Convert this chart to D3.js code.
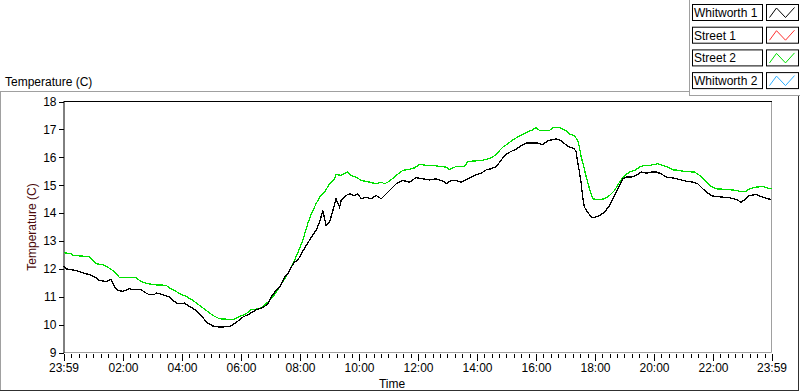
<!DOCTYPE html>
<html>
<head>
<meta charset="utf-8">
<script src="https://cdn.jsdelivr.net/npm/d3@7"></script>
<style>
  body { margin: 0; background: #fff; }
  svg { display: block; font-family: "Liberation Sans", Arial, sans-serif; }
</style>
</head>
<body>
<svg id="chart" width="800" height="392"></svg>
<script>
// hours after the 23:59 start, temperature (C)
var whitworth1 = [[0,12.09],[0.09,12.00],[0.43,11.94],[0.65,11.86],[0.88,11.79],[1.11,11.68],[1.22,11.58],[1.45,11.55],[1.62,11.62],[1.73,11.34],[1.84,11.23],[2.01,11.19],[2.24,11.29],[2.35,11.25],[2.63,11.25],[2.80,11.13],[2.92,11.07],[3.08,11.07],[3.14,11.14],[3.37,11.07],[3.59,10.99],[3.76,10.83],[3.87,10.75],[4.10,10.77],[4.27,10.65],[4.50,10.51],[4.67,10.33],[4.84,10.09],[5.06,9.95],[5.29,9.91],[5.63,9.93],[5.85,10.07],[6.08,10.27],[6.31,10.39],[6.53,10.53],[6.76,10.61],[6.93,10.75],[7.04,10.99],[7.21,11.23],[7.32,11.34],[7.49,11.70],[7.60,11.82],[7.72,12.06],[7.83,12.24],[7.94,12.30],[8.06,12.54],[8.23,12.84],[8.40,13.13],[8.56,13.38],[8.68,13.67],[8.79,14.09],[8.90,13.56],[9.02,13.67],[9.13,14.09],[9.24,14.51],[9.36,14.21],[9.41,14.45],[9.58,14.63],[9.69,14.69],[9.86,14.63],[9.98,14.69],[10.09,14.51],[10.26,14.57],[10.43,14.51],[10.60,14.63],[10.77,14.51],[10.94,14.69],[11.11,14.87],[11.28,15.05],[11.50,15.17],[11.73,15.11],[11.95,15.27],[12.18,15.23],[12.41,15.19],[12.63,15.23],[12.80,15.17],[12.92,15.11],[12.97,15.05],[13.14,15.17],[13.31,15.17],[13.48,15.11],[13.65,15.19],[13.82,15.29],[13.99,15.38],[14.16,15.43],[14.33,15.55],[14.50,15.59],[14.67,15.67],[14.78,15.82],[14.95,16.06],[15.12,16.18],[15.35,16.30],[15.52,16.42],[15.68,16.51],[15.85,16.51],[16.08,16.51],[16.25,16.45],[16.42,16.60],[16.59,16.63],[16.70,16.66],[16.81,16.63],[16.93,16.54],[17.10,16.39],[17.32,16.30],[17.38,16.18],[17.43,15.82],[17.49,15.47],[17.55,15.05],[17.60,14.57],[17.66,14.21],[17.77,14.03],[17.89,13.85],[18.00,13.84],[18.17,13.91],[18.34,14.03],[18.51,14.27],[18.68,14.63],[18.85,14.99],[18.96,15.23],[19.07,15.29],[19.24,15.29],[19.41,15.35],[19.58,15.47],[19.75,15.43],[19.92,15.47],[20.09,15.47],[20.26,15.41],[20.43,15.29],[20.60,15.27],[20.77,15.23],[20.94,15.19],[21.11,15.14],[21.33,15.11],[21.50,15.05],[21.67,14.87],[21.90,14.67],[22.01,14.61],[22.35,14.57],[22.58,14.55],[22.80,14.49],[22.97,14.39],[23.14,14.51],[23.25,14.63],[23.48,14.66],[23.71,14.57],[23.88,14.51],[24,14.49]];

var street2 = [[0,12.58],[0.26,12.54],[0.32,12.48],[0.88,12.44],[0.99,12.30],[1.11,12.18],[1.33,12.15],[1.50,12.06],[1.67,11.94],[1.84,11.76],[1.90,11.68],[2.46,11.68],[2.58,11.58],[2.75,11.50],[3.03,11.43],[3.48,11.41],[3.59,11.32],[3.76,11.23],[3.93,11.11],[4.16,11.01],[4.38,10.87],[4.61,10.69],[4.84,10.51],[5.06,10.33],[5.29,10.21],[5.74,10.18],[5.97,10.29],[6.19,10.39],[6.36,10.53],[6.64,10.57],[6.76,10.65],[6.93,10.81],[7.10,10.99],[7.32,11.34],[7.60,11.82],[7.83,12.30],[8.00,12.72],[8.11,13.02],[8.28,13.62],[8.40,13.97],[8.56,14.33],[8.68,14.57],[8.85,14.75],[9.02,15.05],[9.19,15.23],[9.24,15.38],[9.41,15.35],[9.53,15.43],[9.64,15.47],[9.75,15.35],[9.92,15.29],[10.09,15.17],[10.37,15.11],[10.60,15.05],[10.77,15.11],[10.88,15.05],[11.05,15.14],[11.28,15.35],[11.50,15.53],[11.73,15.57],[11.90,15.62],[12.07,15.75],[12.29,15.71],[12.52,15.71],[12.75,15.67],[12.97,15.65],[13.08,15.56],[13.31,15.67],[13.59,15.67],[13.71,15.85],[14.21,15.89],[14.50,15.98],[14.67,16.10],[14.78,16.24],[14.89,16.36],[15.06,16.48],[15.23,16.63],[15.46,16.76],[15.68,16.88],[15.91,16.99],[16.02,17.06],[16.14,16.96],[16.47,16.96],[16.59,17.06],[16.81,17.06],[17.04,16.96],[17.15,16.84],[17.32,16.78],[17.43,16.60],[17.49,16.36],[17.55,16.00],[17.60,15.82],[17.72,15.29],[17.83,14.87],[17.94,14.51],[18.11,14.48],[18.34,14.51],[18.51,14.63],[18.68,14.81],[18.85,15.11],[19.02,15.35],[19.19,15.47],[19.36,15.53],[19.53,15.65],[19.69,15.71],[19.86,15.71],[20.03,15.74],[20.15,15.77],[20.32,15.71],[20.48,15.65],[20.65,15.55],[20.88,15.53],[21.05,15.49],[21.39,15.47],[21.56,15.35],[21.73,15.17],[21.90,14.99],[22.12,14.87],[22.58,14.84],[22.80,14.81],[22.92,14.78],[23.14,14.78],[23.25,14.87],[23.48,14.93],[23.71,14.95],[23.93,14.87],[24,14.87]];

var legendNames = ["Whitworth 1", "Street 1", "Street 2", "Whitworth 2"];
var legendColors = ["#000000", "#ff3030", "#00e000", "#30b0ff"];
var yTicks = [9, 10, 11, 12, 13, 14, 15, 16, 17, 18];
var xMajorHours = [2, 4, 6, 8, 10, 12, 14, 16, 18, 20, 22];

var svg = d3.select("#chart");

var t0 = new Date(2013, 5, 10, 23, 59);
var t1 = new Date(2013, 5, 11, 23, 59);
function toDate(h) { return new Date(+t0 + h * 3600000); }

var pLeft = 63.5, pRight = 771.5, pTop = 101.5, pBottom = 352.5;

var x = d3.scaleTime().domain([t0, t1]).range([pLeft, pRight]);
var y = d3.scaleLinear().domain([9, 18]).range([pBottom, pTop]);

// outer frame
svg.append("line").attr("x1", 0).attr("x2", 689).attr("y1", 91.5).attr("y2", 91.5).attr("stroke", "#a0a0a0");
svg.append("line").attr("x1", 0.5).attr("x2", 0.5).attr("y1", 91).attr("y2", 391).attr("stroke", "#a0a0a0");
svg.append("line").attr("x1", 0).attr("x2", 799).attr("y1", 390.5).attr("y2", 390.5).attr("stroke", "#303030");
svg.append("line").attr("x1", 798.5).attr("x2", 798.5).attr("y1", 96).attr("y2", 391).attr("stroke", "#303030");

// legend panel edges
svg.append("line").attr("x1", 689.5).attr("x2", 689.5).attr("y1", 0).attr("y2", 96).attr("stroke", "#a0a0a0");
svg.append("line").attr("x1", 689.5).attr("x2", 800).attr("y1", 95.5).attr("y2", 95.5).attr("stroke", "#a0a0a0");

// plot frame
svg.append("line").attr("x1", pRight).attr("x2", pRight).attr("y1", pTop).attr("y2", pBottom).attr("stroke", "#a0a0a0");
svg.append("line").attr("x1", pLeft).attr("x2", pRight).attr("y1", pBottom).attr("y2", pBottom).attr("stroke", "#a0a0a0");
svg.append("line").attr("x1", pLeft).attr("x2", pRight + 0.5).attr("y1", pTop).attr("y2", pTop).attr("stroke", "#000");

// y axis
var yAxis = svg.append("g")
  .attr("transform", "translate(" + pLeft + ",0)")
  .call(d3.axisLeft(y).tickValues(yTicks).tickSize(5).tickSizeOuter(0).tickPadding(2));
yAxis.select(".domain").attr("stroke", "#000");
yAxis.selectAll("text").style("font-size", "12px").attr("fill", "#000").attr("font-family", null);

// x axis: major + minor ticks
var majors = [t0].concat(xMajorHours.map(function (h) { return new Date(2013, 5, 11, h, 0); }), [t1]);
var minors = d3.timeMinute.every(15).range(t0, t1).filter(function (d) {
  return majors.every(function (m) { return Math.abs(d - m) > 5 * 60000; });
});

var xMinor = svg.append("g")
  .attr("transform", "translate(0," + (pBottom + 1) + ")")
  .call(d3.axisBottom(x).tickValues(minors).tickSize(4).tickFormat(""));
xMinor.select(".domain").remove();

var xAxis = svg.append("g")
  .attr("transform", "translate(0," + (pBottom + 1) + ")")
  .call(d3.axisBottom(x).tickValues(majors).tickSize(7).tickPadding(3).tickFormat(d3.timeFormat("%H:%M")));
xAxis.select(".domain").remove();
xAxis.selectAll("text").style("font-size", "12px").attr("fill", "#000").attr("font-family", null);
svg.selectAll(".tick line").attr("shape-rendering", "crispEdges");

// series, drawn aliased like the original instrument plot
var line = d3.line()
  .x(function (d) { return x(toDate(d[0])); })
  .y(function (d) { return y(d[1]); });

svg.append("path").datum(street2)
  .attr("d", line).attr("fill", "none").attr("stroke", legendColors[2])
  .attr("stroke-width", 1.3).attr("shape-rendering", "crispEdges");
svg.append("path").datum(whitworth1)
  .attr("d", line).attr("fill", "none").attr("stroke", legendColors[0])
  .attr("stroke-width", 1.3).attr("shape-rendering", "crispEdges");

// titles
svg.append("text").attr("x", 5).attr("y", 86).style("font-size", "12px").text("Temperature (C)");
svg.append("text").attr("x", 392).attr("y", 388).attr("text-anchor", "middle").style("font-size", "12px").text("Time");
svg.append("text")
  .attr("transform", "translate(36," + ((pTop + pBottom) / 2) + ") rotate(-90)")
  .attr("text-anchor", "middle")
  .attr("fill", "#4a0a0a")
  .style("font-size", "12px")
  .text("Temperature (C)");

// legend
var leg = svg.append("g").selectAll("g")
  .data(legendNames)
  .enter().append("g")
  .attr("transform", function (d, i) { return "translate(0," + (4.5 + i * 22.7) + ")"; });

leg.append("rect").attr("x", 692.5).attr("y", 0).attr("width", 70).attr("height", 16)
  .attr("fill", "#fff").attr("stroke", "#000");
leg.append("text").attr("x", 694).attr("y", 12.5).style("font-size", "12px")
  .text(function (d) { return d; });
leg.append("rect").attr("x", 766.5).attr("y", 0).attr("width", 32).attr("height", 16)
  .attr("fill", "#fff").attr("stroke", "#000");
leg.append("polyline")
  .attr("points", "769.5,13 776.5,3.5 785.5,13 794.5,3")
  .attr("fill", "none")
  .attr("stroke", function (d, i) { return legendColors[i]; });
</script>
</body>
</html>
